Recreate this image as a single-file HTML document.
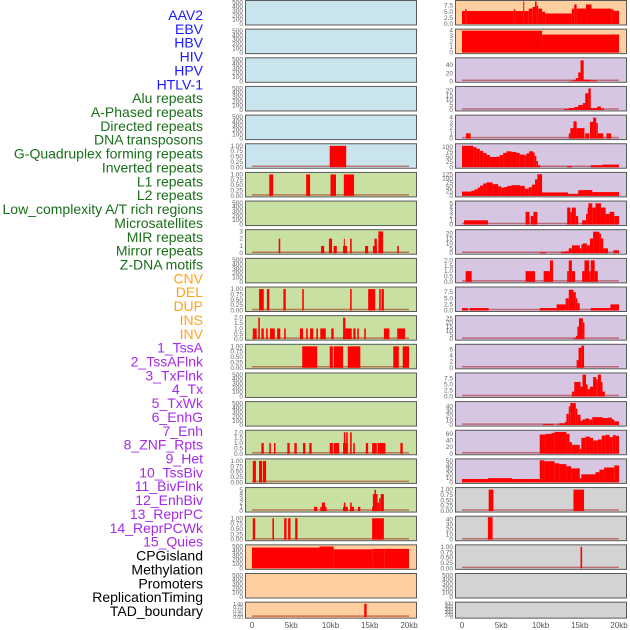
<!DOCTYPE html>
<html><head><meta charset="utf-8"><style>
html,body{margin:0;padding:0;background:#fff;width:630px;height:630px;overflow:hidden}
svg{display:block;font-family:"Liberation Sans",sans-serif}
</style></head><body>
<svg id="chart" width="630" height="630" viewBox="0 0 630 630" xmlns="http://www.w3.org/2000/svg"></svg>
<script>
const trackLabels = ["AAV2","EBV","HBV","HIV","HPV","HTLV-1","Alu repeats","A-Phased repeats","Directed repeats","DNA transposons","G-Quadruplex forming repeats","Inverted repeats","L1 repeats","L2 repeats","Low_complexity A/T rich regions","Microsatellites","MIR repeats","Mirror repeats","Z-DNA motifs","CNV","DEL","DUP","INS","INV","1_TssA","2_TssAFlnk","3_TxFlnk","4_Tx","5_TxWk","6_EnhG","7_Enh","8_ZNF_Rpts","9_Het","10_TssBiv","11_BivFlnk","12_EnhBiv","13_ReprPC","14_ReprPCWk","15_Quies","CPGisland","Methylation","Promoters","ReplicationTiming","TAD_boundary"];
const labelGroups = [6,13,5,15,5];
const xTickKb = [0,5,10,15,20];
const xTickLabels = ["0","5kb","10kb","15kb","20kb"];
const T500 = [0,100,200,300,400,500];
const T1 = [0,0.25,0.5,0.75,1];
// middle column: ymax, ticks, segments [startKb,endKb,value]
const midYmax = [520,520,520,520,520,1.05, 1.05,520,3.1,520,1.05,2.1, 1.05,520,520,2.1,1.05,5.3,1.05, 520,520,1.05];
const midTicks = [T500,T500,T500,T500,T500,T1, T1,T500,[0,1,2,3],T500,T1,[0,0.5,1,1.5,2], T1,T500,T500,[0,0.5,1,1.5,2],T1,[0,1,2,3,4,5],T1, T500,T500,T1];
const midSegs = [[],[],[],[],[],
 [[9.9,12.0,1]],
 [[2.2,2.7,1],[6.9,7.4,1],[10.0,10.7,1],[11.7,13.0,1]],
 [],
 [[3.4,3.6,2],[8.8,9.2,1],[9.8,10.2,2],[10.4,10.8,1],[11.6,12.1,1],[11.7,11.8,2],[12.5,12.7,2],[14.4,14.8,1],[15.4,15.9,1],[15.6,15.9,2],[16.1,16.7,3],[18.5,18.7,1]],
 [],
 [[0.9,1.5,1],[1.9,2.2,1],[4.0,4.3,1],[6.4,6.6,1],[12.5,12.7,1],[14.8,15.7,1],[16.2,16.4,1],[16.5,16.8,1]],
 [[0.1,0.6,1],[0.8,1.0,2],[1.2,1.5,1],[1.8,2.0,1],[2.3,2.9,1],[3.2,3.6,1],[4.1,4.3,1],[6.1,6.5,1],[6.9,7.1,1],[7.4,7.8,1],[8.2,8.4,1],[8.7,9.4,1],[10.1,10.4,1],[11.6,11.9,2],[11.9,12.7,1],[12.9,13.2,1],[13.4,13.6,1],[14.3,14.5,1],[16.8,17.5,1],[18.5,19.5,1]],
 [[6.4,8.3,1],[9.9,10.3,1],[10.4,11.6,1],[12.2,13.8,1],[18.0,18.7,1],[19.2,20.0,1]],
 [],
 [],
 [[1.2,1.5,1],[2.2,2.4,1],[2.8,3.0,1],[4.5,4.8,1],[5.4,5.7,1],[6.5,6.8,1],[7.3,7.6,1],[9.9,10.3,1],[10.4,11.1,1],[11.6,11.9,1],[11.7,11.9,2],[11.9,12.2,1],[12.0,12.2,2],[12.5,12.7,2],[12.9,13.1,1],[14.5,14.8,1],[15.3,15.9,1],[16.0,17.0,1],[18.9,19.2,1]],
 [[0.1,0.5,1],[0.9,1.3,1],[1.4,1.8,1]],
 [[7.9,8.3,1],[8.7,8.9,1],[8.9,9.3,2],[9.3,9.5,1],[11.6,12.2,1],[11.7,11.9,2],[12.5,13.0,1],[12.5,12.7,2],[13.5,13.8,1],[15.3,15.4,1],[15.4,15.6,4],[15.6,15.8,5],[15.8,16.0,4],[16.0,16.2,2],[16.2,16.4,3],[16.4,16.8,4]],
 [[0.1,0.4,1],[2.6,2.8,1],[4.1,4.4,1],[4.6,4.9,1],[5.5,5.8,1],[15.3,16.8,1]],
 [[0,8.6,480],[8.6,10.4,505],[10.4,15.4,440],[15.4,16.9,450],[16.9,20,450]],
 [],
 [[14.3,14.6,1]]
];
// right column
const rightYmax = [9.2,4.1,56,23,4.3,110,130,5.3,23,2.1,9.2,27,7.3,9.3,48,68,53,1.05,45,1.05,520,520];
const rightTicks = [[0,2.5,5,7.5],[0,1,2,3,4],[0,20,40],[0,5,10,15,20],[0,1,2,3,4],[0,25,50,75,100],[0,25,50,75,100,125],[0,1,2,3,4,5],[0,5,10,15,20],[0,0.5,1,1.5,2],[0,2.5,5,7.5],[0,5,10,15,20,25],[0,2,4,6],[0,2.5,5,7.5],[0,10,20,30,40],[0,20,40,60],[0,10,20,30,40,50],T1,[0,10,20,30,40],T1,T500,T500];
const rightSegs = [
 [[0,0.4,5.3],[0.4,0.6,6],[0.6,6.6,5.3],[6.6,6.8,6],[6.8,7.8,5.3],[7.8,7.9,9.2],[7.9,8.5,5.3],[8.5,9.0,6.3],[9.0,9.3,7],[9.3,9.5,9.2],[9.5,9.7,7.5],[9.7,10.2,6.3],[10.2,10.6,5],[10.6,14.0,4.3],[14.0,14.3,6.3],[14.3,14.6,8],[14.6,15.8,6.3],[15.8,16.5,8],[16.5,19.0,6.3],[19.0,19.3,6],[19.3,20,5.4]],
 [[0,10.2,4],[10.2,20,3.3]],
 [[13.6,14.1,1],[14.1,14.5,3],[14.5,14.8,8],[14.8,15.1,22],[15.1,15.5,52],[15.5,16.3,4],[16.3,17.2,2]],
 [[13.0,13.6,1],[13.6,14.3,2],[14.3,14.8,3],[14.8,15.4,5],[15.4,15.7,7],[15.7,16.1,17],[16.1,16.4,22],[16.4,16.6,2],[16.6,17.2,2],[17.2,17.7,3.5],[17.7,18.1,1.5]],
 [[0.5,1.1,1],[13.6,13.8,1],[13.8,14.2,2],[14.2,14.6,3.3],[14.6,15.6,2],[15.7,16.2,1],[16.3,16.7,3.2],[16.7,17.1,4],[17.1,17.3,3],[17.3,18.0,1],[18.4,19.0,1]],
 [[0,1.44,105],[1.44,1.86,98],[1.86,2.28,90],[2.28,2.7,80],[2.7,3.13,70],[3.13,3.55,60],[3.55,4.4,50],[4.4,4.82,52],[4.82,5.24,60],[5.24,5.67,70],[5.67,6.3,78],[6.3,6.93,75],[6.93,7.36,70],[7.36,8.0,62],[8.0,8.2,58],[8.2,8.54,68],[8.54,9.05,78],[9.05,9.26,72],[9.26,9.47,55],[9.47,9.68,30],[9.68,9.98,10],[13.4,14.0,6],[16.4,17.9,10],[17.9,20,13]],
 [[0,1.2,25],[1.2,1.6,30],[1.6,2.0,38],[2.0,2.3,48],[2.3,2.7,60],[2.7,3.1,72],[3.1,3.9,78],[3.9,4.6,68],[4.6,5.0,55],[5.0,5.4,48],[5.4,5.8,52],[5.8,6.3,58],[6.3,7.4,62],[7.4,8.0,58],[8.0,8.5,42],[8.5,8.9,50],[8.9,9.3,65],[9.3,9.6,95],[9.6,10.2,125],[10.2,13.5,20],[13.5,14.8,12],[14.8,15.6,33],[15.6,16.6,34],[16.6,17.5,22],[17.5,20,22]],
 [[0.25,3.3,1],[8.1,8.6,3],[8.75,9.1,2],[9.1,9.6,3],[13.4,13.8,4],[13.8,14.0,3],[14.0,14.5,4],[14.5,14.8,2],[15.3,15.8,1],[15.8,16.0,2.5],[16.0,16.1,4],[16.1,16.6,5],[16.6,17.0,4],[17.0,17.7,5],[17.7,18.3,4],[18.3,18.8,2.5],[18.8,19.4,3],[19.4,20,2]],
 [[9.9,10.7,1],[12.6,13.1,1.5],[13.1,13.6,2],[13.6,14.0,5],[14.0,15.0,8],[15.0,15.2,5],[15.2,15.4,9],[15.4,15.9,10],[15.9,16.3,8],[16.3,16.7,15],[16.7,17.5,22],[17.5,17.7,20],[17.7,18.0,15],[18.0,18.6,5],[19.3,20,3]],
 [[0.47,1.23,1],[8.1,9.3,1],[10.4,11.2,1],[11.2,11.6,2],[13.4,13.6,1],[13.6,14.0,2],[14.0,14.4,1],[15.3,15.6,1],[15.6,16.2,2],[16.2,16.4,1],[16.4,16.9,2],[16.9,17.3,1]],
 [[0,0.76,1],[1.0,3.4,1],[9.9,12.05,1],[12.05,13.2,2.5],[13.2,13.6,5],[13.6,14.2,8.5],[14.2,14.5,7.5],[14.5,14.7,5],[14.7,15.0,3],[16.4,18.9,1],[18.9,20,2.5]],
 [[14.2,14.5,1],[14.5,14.7,4],[14.7,14.9,15],[14.9,15.4,25],[15.4,15.6,20]],
 [[14.6,14.85,2.5],[14.85,15.2,6.5],[15.2,15.55,7.2]],
 [[14.0,14.3,2],[14.3,15.1,6],[15.1,15.35,4],[15.35,15.8,9],[15.8,16.0,5],[16.0,16.3,3],[16.3,16.7,4],[16.7,17.1,8],[17.1,17.3,7],[17.3,17.7,9],[17.7,17.9,6],[17.9,18.2,2]],
 [[10.3,11.7,2],[12.05,12.4,1],[12.4,13.1,4],[13.1,13.3,7],[13.3,13.6,24],[13.6,13.8,40],[13.8,14.5,47],[14.5,14.7,35],[14.7,15.1,22],[15.1,15.35,9],[15.35,15.7,12],[15.7,16.2,14],[16.2,16.6,12],[16.6,17.9,17],[17.9,18.6,15],[18.6,19.1,16],[19.1,19.4,12],[19.4,20,8]],
 [[9.9,10.65,58],[10.65,11.4,60],[11.4,11.8,63],[11.8,13.3,66],[13.3,13.7,60],[13.7,14.0,35],[14.0,15.0,27],[15.0,15.2,15],[15.2,15.7,48],[15.7,16.3,52],[16.3,16.7,48],[16.7,17.3,40],[17.3,17.8,43],[17.8,18.3,55],[18.3,18.8,57],[18.8,19.2,50],[19.2,19.6,56],[19.6,20,54]],
 [[0,3.3,8],[3.3,6.4,10],[6.4,9.9,8],[9.9,10.5,52],[10.5,11.8,50],[11.8,12.4,45],[12.4,13.3,43],[13.3,13.9,38],[13.9,15.0,33],[15.0,15.2,10],[15.2,17.0,19],[17.0,17.5,24],[17.5,18.1,30],[18.1,19.4,35],[19.4,20,40]],
 [[3.4,4.0,1],[14.2,15.55,1]],
 [[3.3,3.9,45]],
 [[15.1,15.3,1]],
 [],[]
];
const midColors = [];
for (let i=0;i<22;i++) midColors.push(i<6?"#c9e4ec":(i<19?"#c8e1a2":"#ffcf9f"));
const rightColors = [];
for (let i=0;i<22;i++) rightColors.push(i<2?"#ffcf9f":(i<17?"#d6c6e2":"#d3d3d3"));
const groupColors = ["#1a1aff","#1a6e1a","#ffa31a","#a52ae8","#000000"];

const svg = document.getElementById('chart');
const NS = "http://www.w3.org/2000/svg";
function mk(tag, attrs){ const e=document.createElementNS(NS,tag); for(const k in attrs) e.setAttribute(k,attrs[k]); svg.appendChild(e); return e; }

let gi=0, gc=0;
trackLabels.forEach((lab,i)=>{
  const t = mk('text',{x:203,y:15+i*13.86+5,'text-anchor':'end','font-size':'14px',fill:groupColors[gi]});
  t.textContent = lab;
  
  
  gc++; if (gc>=labelGroups[gi]) { gi++; gc=0; }
});

function drawColumn(colX, ymaxArr, ticksArr, segsArr, colors, colName){
  const W = 171, x0 = colX+7, x1 = colX+164;
  const xs = kb => x0 + (kb/20)*(x1-x0);
  for (let r=0;r<22;r++){
    const top = r*28.65;
    const h = r===21 ? 16 : 24.5;
    const bg = mk('rect',{x:colX+0.5,y:top+0.5,width:W,height:h,fill:colors[r],stroke:'#5a5a5a','stroke-width':1});
    
    
    const yb = top+h-0.5, yt = top+1.5;
    const ym = ymaxArr[r] || 1;
    const ys = v => yb - (v/ym)*(yb-yt);
    (ticksArr[r]||[]).forEach(tv=>{
      const tt = mk('text',{x:colX-2,y:ys(tv)+2,'text-anchor':'end','font-size': r===21?'5px':'6.5px',fill:'#666'});
      let s = String(tv);
      if (ticksArr[r]===T1) s = tv.toFixed(2);
      else if (ticksArr[r].some(v=>v%1!==0)) s = tv.toFixed(1);
      tt.textContent = s;
      
      
    });
    const segs = segsArr[r] || [];
    if (segs.length){
      const bl = mk('line',{x1:xs(0),x2:xs(20),y1:yb-1,y2:yb-1,stroke:'rgba(170,30,30,0.55)','stroke-width':1.5});
      
      
    }
    segs.forEach(s=>{
      const y = ys(s[2]);
      const b = mk('rect',{x:xs(s[0]),y:y,width:Math.max(1,xs(s[1])-xs(s[0])),height:Math.max(0,yb-y),fill:'#ff0000'});
      
      
    });
  }
  xTickKb.forEach((k,i)=>{
    const t = mk('text',{x:xs(k),y:628,'text-anchor':'middle','font-size':'8px',fill:'#555'});
    t.textContent = xTickLabels[i];
    
    
  });
}
drawColumn(245, midYmax, midTicks, midSegs, midColors, 'middle');
drawColumn(455, rightYmax, rightTicks, rightSegs, rightColors, 'right');
</script>
</body></html>
